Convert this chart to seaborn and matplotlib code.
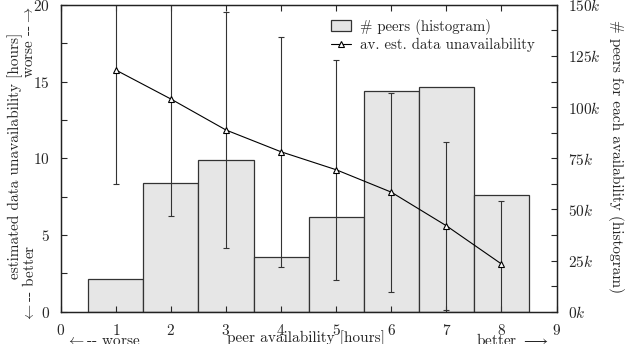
import matplotlib
matplotlib.use("Agg")
import matplotlib.pyplot as plt
import seaborn as sns
from matplotlib.patches import Patch
from matplotlib.lines import Line2D
from matplotlib.ticker import MultipleLocator, FuncFormatter

# data
avail = [1, 2, 3, 4, 5, 6, 7, 8]
peers = [15800, 63000, 74100, 26600, 46400, 108000, 110000, 56900]
unavail = [15.75, 13.86, 11.84, 10.42, 9.25, 7.79, 5.60, 3.11]
unavail_err = [7.4, 7.65, 7.67, 7.5, 7.17, 6.49, 5.49, 4.12]

sns.set_style("ticks")
plt.rcParams["font.family"] = "serif"
plt.rcParams["font.serif"] = ["cmr10"]
plt.rcParams["mathtext.fontset"] = "cm"
plt.rcParams["axes.formatter.use_mathtext"] = True
plt.rcParams["font.size"] = 11
plt.rcParams["axes.edgecolor"] = "#222222"
plt.rcParams["axes.linewidth"] = 0.9

fig = plt.figure(figsize=(6.26, 3.44), dpi=100)
ax = fig.add_axes([0.097, 0.094, 0.792, 0.892])
ax2 = ax.twinx()

# histogram on the right axis
sns.barplot(x=avail, y=peers, native_scale=True, width=1, ax=ax2,
            color="#e6e6e6", saturation=1, edgecolor="#333333",
            linewidth=0.9, errorbar=None)
ax2.set_ylim(0, 150000)
ax2.yaxis.set_major_locator(MultipleLocator(25000))
ax2.yaxis.set_minor_locator(MultipleLocator(12500))
ax2.yaxis.set_major_formatter(FuncFormatter(lambda v, p: rf"${v/1000:.0f}k$"))
ax2.set_ylabel("")
ax2.tick_params(axis="y", which="both", direction="in", length=4, width=0.8,
                pad=8, labelsize=11)

# unavailability line on the left axis, drawn above the bars
ax.set_zorder(ax2.get_zorder() + 1)
ax.patch.set_visible(False)
ax.errorbar(avail, unavail, yerr=unavail_err, fmt="none", ecolor="#333333",
            elinewidth=0.8, capsize=2, capthick=0.8)
sns.lineplot(x=avail, y=unavail, ax=ax, color="black", linewidth=0.8,
             marker="^", markersize=5, markerfacecolor="white",
             markeredgecolor="black", markeredgewidth=0.8)

ax.set_xlim(0, 9)
ax.set_ylim(0, 20)
ax.xaxis.set_major_locator(MultipleLocator(1))
ax.yaxis.set_major_locator(MultipleLocator(5))
ax.yaxis.set_minor_locator(MultipleLocator(2.5))
ax.tick_params(axis="both", which="both", direction="in", length=4,
               width=0.8, pad=8, labelsize=11)
ax.tick_params(axis="x", top=True)
ax2.tick_params(axis="x", top=True, direction="in", length=4, width=0.8)
for a in (ax, ax2):
    for s in a.spines.values():
        s.set_visible(True)

handles = [Patch(facecolor="#e6e6e6", edgecolor="#333333", linewidth=0.9),
           Line2D([], [], color="black", linewidth=0.8, marker="^",
                  markersize=5, markerfacecolor="white", markeredgewidth=0.8)]
ax.legend(handles, ["# peers (histogram)", "av. est. data unavailability"],
          loc="upper left", bbox_to_anchor=(0.546, 0.955), frameon=False,
          borderpad=0, borderaxespad=0, handlelength=1.3, handletextpad=0.6,
          labelspacing=0.2, fontsize=10.7)

# axis labels
fig.text(0.024, 0.547, "estimated data unavailability [hours]",
         rotation=90, ha="center", va="center")
fig.text(0.047, 0.064, r"$\leftarrow$-- better", rotation=90,
         ha="center", va="bottom")
fig.text(0.047, 0.982, r"worse --$\rightarrow$", rotation=90,
         ha="center", va="top")
fig.text(0.984, 0.544, "# peers for each availability (histogram)",
         rotation=-90, ha="center", va="center")
fig.text(0.489, 0.006, "peer availability [hours]", ha="center",
         va="baseline")
fig.text(0.165, -0.003, r"$\leftarrow$-- worse", ha="center", va="baseline")
fig.text(0.818, -0.003, r"better $\longrightarrow$", ha="center",
         va="baseline")

fig.savefig("out.png", dpi=100)
